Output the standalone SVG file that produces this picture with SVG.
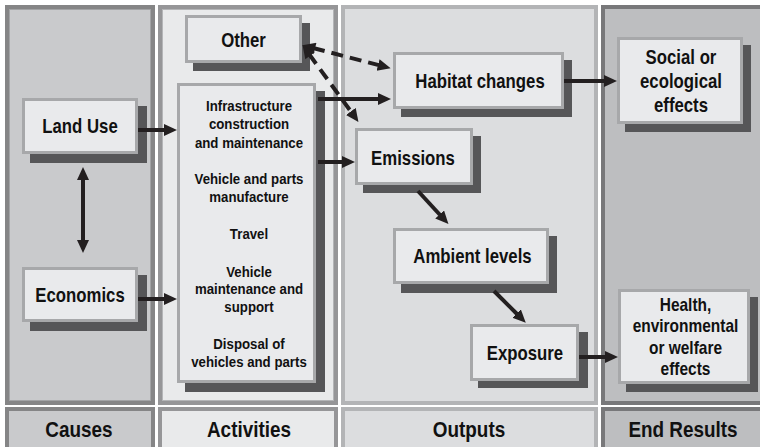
<svg xmlns="http://www.w3.org/2000/svg" width="760" height="447" viewBox="0 0 760 447">
<defs>
<style>
text{font-family:"Liberation Sans",Arial,sans-serif;font-weight:bold;fill:#111;text-anchor:middle}
.big{font-size:19.5px}
.mid{font-size:18px}
.sm{font-size:15.4px}
.lab{font-size:22px}
.box{fill:#e9eaec;stroke:#a7a8aa;stroke-width:3}
.sh{fill:#565658}
.arr{stroke:#231f20;stroke-width:4;fill:none;marker-end:url(#ah)}
.dash{stroke:#231f20;stroke-width:4;fill:none;stroke-dasharray:12 7;marker-end:url(#ah);marker-start:url(#ahs)}
</style>
<marker id="ah" markerUnits="userSpaceOnUse" markerWidth="14" markerHeight="14" refX="2" refY="6" orient="auto">
<path d="M0,0 L13,6 L0,12 z" fill="#231f20"/>
</marker>
<marker id="ahs" markerUnits="userSpaceOnUse" markerWidth="14" markerHeight="14" refX="11" refY="6" orient="auto">
<path d="M13,0 L0,6 L13,12 z" fill="#231f20"/>
</marker>
</defs>
<rect width="760" height="447" fill="#fff"/>
<g id="panels">
<g id="panel-causes">
<rect x="7" y="7" width="146" height="396" fill="#c9cacc" stroke="#858586" stroke-width="4"/>
<rect x="9.5" y="9.5" width="141" height="391" fill="none" stroke="#a2a3a5" stroke-width="1"/>
<rect x="7" y="409" width="146" height="46" fill="#c9cacc" stroke="#858586" stroke-width="4"/>
<g transform="translate(79 0) scale(0.86 1)"><text class="lab" x="0" y="437">Causes</text></g>
</g>
<g id="panel-activities">
<rect x="160" y="7" width="176" height="396" fill="#e9eaeb" stroke="#969698" stroke-width="4"/>
<rect x="162.5" y="9.5" width="171" height="391" fill="none" stroke="#b4b5b7" stroke-width="1"/>
<rect x="160" y="409" width="176" height="46" fill="#e9eaeb" stroke="#969698" stroke-width="4"/>
<g transform="translate(249 0) scale(0.86 1)"><text class="lab" x="0" y="437">Activities</text></g>
</g>
<g id="panel-outputs">
<rect x="343" y="7" width="253" height="396" fill="#dcdddf" stroke="#b3b4b6" stroke-width="4"/>
<rect x="343" y="409" width="253" height="46" fill="#dcdddf" stroke="#b3b4b6" stroke-width="4"/>
<g transform="translate(469 0) scale(0.86 1)"><text class="lab" x="0" y="437">Outputs</text></g>
</g>
<g id="panel-endresults">
<rect x="603" y="7" width="165" height="396" fill="#bdbec0" stroke="#78787a" stroke-width="4"/>
<rect x="603" y="409" width="165" height="46" fill="#bdbec0" stroke="#78787a" stroke-width="4"/>
<g transform="translate(683 0) scale(0.86 1)"><text class="lab" x="0" y="437">End Results</text></g>
</g>
</g>
<g id="node-other">
<rect class="sh" x="193" y="23" width="117" height="48"/>
<rect class="box" x="186.5" y="16.5" width="114" height="45"/>
<g transform="translate(243.5 0) scale(0.86 1)"><text class="big" x="0" y="47">Other</text></g>
</g>
<g id="node-activities">
<rect class="sh" x="185" y="91" width="140" height="301"/>
<rect class="box" x="178.5" y="84.5" width="136" height="297"/>
<g transform="translate(249 0) scale(0.86 1)">
<text class="sm" x="0" y="111">Infrastructure</text>
<text class="sm" x="0" y="129.5">construction</text>
<text class="sm" x="0" y="148">and maintenance</text>
<text class="sm" x="0" y="184">Vehicle and parts</text>
<text class="sm" x="0" y="202.5">manufacture</text>
<text class="sm" x="0" y="239">Travel</text>
<text class="sm" x="0" y="277">Vehicle</text>
<text class="sm" x="0" y="294.5">maintenance and</text>
<text class="sm" x="0" y="312">support</text>
<text class="sm" x="0" y="349">Disposal of</text>
<text class="sm" x="0" y="367">vehicles and parts</text>
</g>
</g>
<g id="node-landuse">
<rect class="sh" x="30" y="106" width="117" height="57"/>
<rect class="box" x="23.5" y="99.5" width="113" height="53"/>
<g transform="translate(80 0) scale(0.86 1)"><text class="big" x="0" y="133">Land Use</text></g>
</g>
<g id="node-economics">
<rect class="sh" x="30" y="275" width="117" height="56"/>
<rect class="box" x="23.5" y="268.5" width="113" height="52"/>
<g transform="translate(80 0) scale(0.86 1)"><text class="big" x="0" y="302">Economics</text></g>
</g>
<g id="node-habitat">
<rect class="sh" x="401" y="60" width="171" height="57"/>
<rect class="box" x="394.5" y="53.5" width="168" height="54"/>
<g transform="translate(480 0) scale(0.86 1)"><text class="big" x="0" y="88">Habitat changes</text></g>
</g>
<g id="node-emissions">
<rect class="sh" x="363" y="136" width="118" height="57"/>
<rect class="box" x="356.5" y="129.5" width="115" height="54"/>
<g transform="translate(413 0) scale(0.86 1)"><text class="big" x="0" y="165">Emissions</text></g>
</g>
<g id="node-ambient">
<rect class="sh" x="401" y="236" width="156" height="57"/>
<rect class="box" x="394.5" y="229.5" width="153" height="53"/>
<g transform="translate(472.5 0) scale(0.86 1)"><text class="big" x="0" y="263">Ambient levels</text></g>
</g>
<g id="node-exposure">
<rect class="sh" x="478" y="332" width="110" height="56"/>
<rect class="box" x="471.5" y="325.5" width="106" height="54"/>
<g transform="translate(525 0) scale(0.86 1)"><text class="big" x="0" y="360">Exposure</text></g>
</g>
<g id="node-social">
<rect class="sh" x="625" y="45" width="126" height="87"/>
<rect class="box" x="618.5" y="38.5" width="123" height="84"/>
<g transform="translate(681 0) scale(0.86 1)">
<text class="big" x="0" y="64">Social or</text>
<text class="big" x="0" y="88">ecological</text>
<text class="big" x="0" y="112.5">effects</text>
</g>
</g>
<g id="node-health">
<rect class="sh" x="626" y="297" width="132" height="95"/>
<rect class="box" x="619.5" y="290.5" width="129" height="92"/>
<g transform="translate(685.5 0) scale(0.86 1)">
<text class="mid" x="0" y="311">Health,</text>
<text class="mid" x="0" y="332.5">environmental</text>
<text class="mid" x="0" y="354">or welfare</text>
<text class="mid" x="0" y="375.5">effects</text>
</g>
</g>
<g id="connectors">
<line class="arr" x1="138" y1="130" x2="166" y2="130"/>
<line class="arr" x1="138" y1="299" x2="166" y2="299"/>
<line class="arr" x1="83" y1="210" x2="83" y2="178"/>
<line class="arr" x1="83" y1="210" x2="83" y2="242"/>
<line class="arr" x1="318" y1="99" x2="380" y2="99"/>
<line class="arr" x1="318" y1="162" x2="344" y2="162"/>
<line class="arr" x1="564" y1="81" x2="606" y2="81"/>
<line class="arr" x1="418" y1="191" x2="441" y2="216"/>
<line class="arr" x1="494" y1="291" x2="518" y2="315"/>
<line class="arr" x1="579" y1="357" x2="607" y2="357"/>
<line class="dash" x1="313" y1="48" x2="380" y2="65.5"/>
<line class="dash" x1="309" y1="54" x2="352" y2="113"/>
</g>
</svg>
